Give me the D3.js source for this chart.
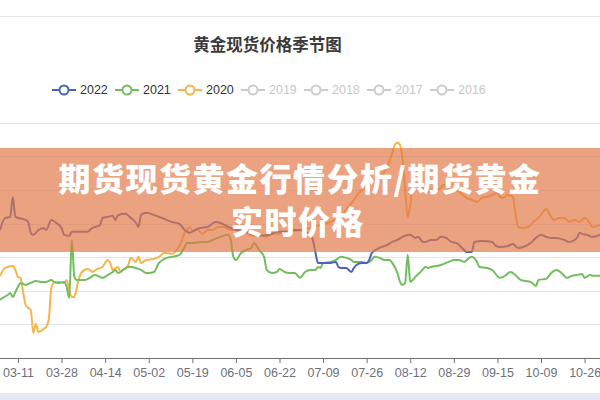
<!DOCTYPE html>
<html><head><meta charset="utf-8">
<script src="https://cdn.jsdelivr.net/npm/d3@7/dist/d3.min.js"></script>
<style>
html,body{margin:0;padding:0;background:#fff;}
svg{display:block;}
</style></head>
<body>
<svg id="chart" width="600" height="400"></svg>
<script>
// ---------- data ----------
const chartTitle = "黄金现货价格季节图";
const bannerLines = ["期货现货黄金行情分析/期货黄金", "实时价格"];
const legendNames = ["2022", "2021", "2020", "2019", "2018", "2017", "2016"];
const legendActive = [true, true, true, false, false, false, false];
const tickLabels = ["03-11","03-28","04-14","05-02","05-19","06-05","06-22","07-09","07-26","08-12","08-29","09-15","10-09","10-26"];
const tickDays = [7,24,41,58,75,92,109,126,143,160,177,194,211,228];
const yTicks = [320,340,360,380,400,420,440,460];

// [category index, price]
const s2022 = [[0,396.2],[2,403.4],[4,404.0],[5,415.9],[6,404.0],[10,402.2],[11,401.0],[12,394.5],[13,393.3],[15,396.2],[17,397.4],[18,396.2],[20,402.2],[22,400.4],[24,397.4],[25,393.3],[27,392.7],[28,395.1],[30,395.1],[34,395.1],[36,397.4],[39,399.2],[40,403.4],[42,404.0],[44,404.6],[45,402.2],[46,405.0],[49,405.8],[51,403.4],[52,402.2],[53,400.4],[54,398.0],[55,405.2],[57,406.4],[60,405.2],[62,404.0],[65,402.2],[67,401.0],[70,399.8],[72,396.2],[74,394.5],[76,396.2],[78,397.4],[81,398.0],[84,401.0],[86,400.4],[89,398.0],[91,396.8],[96,395.1],[101,392.7],[105,393.3],[108,395.1],[112,395.1],[114,396.2],[117,396.2],[120,394.5],[121,393.3],[122,390.3],[123,383.1],[124,376.6],[126,376.6],[129,376.6],[131,377.2],[132,374.2],[133,373.6],[135,373.6],[137,371.2],[138,373.6],[139,375.4],[141,376.6],[143,376.6],[144,378.4],[145,382.5],[148,385.5],[151,387.3],[153,389.1],[155,390.3],[157,392.1],[160,393.3],[162,391.5],[163,392.1],[165,389.1],[166,389.1],[168,390.3],[170,390.3],[172,392.1],[174,391.5],[176,389.1],[178,388.5],[181,384.3],[182,383.1],[184,383.1],[185,389.1],[188,389.7],[192,389.1],[193,387.3],[195,386.1],[198,386.7],[200,387.9],[202,385.5],[204,386.1],[207,388.5],[209,391.5],[211,393.3],[213,392.1],[215,391.5],[217,391.5],[220,390.3],[222,389.1],[225,391.5],[226,394.5],[227,393.9],[229,393.3],[231,392.1],[234,393.3]];
const s2021 = [[0,354.6],[1,355.7],[3,357.5],[4,358.7],[5,356.3],[6,359.3],[7,362.3],[8,364.7],[10,363.5],[12,364.7],[14,365.9],[16,365.3],[18,365.3],[20,366.5],[21,365.3],[23,364.7],[25,365.3],[26,362.3],[27,355.7],[28,390.3],[29,368.3],[30,366.5],[33,366.5],[35,367.7],[37,369.4],[39,368.3],[40,367.7],[42,369.4],[44,371.2],[45,372.4],[46,370.6],[48,372.4],[50,374.2],[51,374.2],[53,373.6],[55,372.4],[57,370.6],[58,370.6],[60,371.2],[62,376.6],[65,379.6],[67,380.2],[70,381.4],[72,386.1],[73,388.5],[75,388.5],[78,389.1],[81,389.1],[83,390.3],[86,392.1],[89,393.3],[90,390.3],[91,380.2],[92,378.4],[94,382.5],[96,384.3],[98,385.5],[99,388.5],[101,384.3],[103,380.2],[104,372.4],[106,370.6],[108,371.2],[109,373.0],[111,371.2],[113,370.6],[115,370.6],[117,367.7],[119,371.2],[121,372.4],[123,372.4],[124,374.2],[125,373.6],[126,376.6],[129,377.2],[131,378.4],[133,380.2],[135,379.6],[137,378.4],[138,377.2],[141,377.2],[143,376.6],[145,378.4],[146,380.2],[148,379.6],[150,378.4],[152,378.4],[153,376.6],[155,370.6],[156,365.3],[157,363.5],[158,364.7],[159,381.4],[160,365.3],[161,366.5],[162,368.3],[164,371.2],[166,374.2],[167,373.6],[168,374.2],[172,375.4],[174,376.6],[176,377.8],[177,378.4],[179,378.4],[181,377.2],[183,379.6],[184,380.2],[186,377.2],[187,374.2],[190,373.6],[192,372.4],[195,367.7],[197,368.9],[199,371.2],[201,369.4],[203,366.5],[207,365.3],[209,362.9],[210,366.5],[213,367.1],[215,370.6],[217,372.4],[219,370.6],[221,367.7],[223,368.9],[225,369.4],[227,370.0],[228,367.7],[230,369.4],[232,368.9],[234,368.9]];
const s2020 = [[0,368.8],[2,373.6],[5,374.8],[6,372.4],[7,368.3],[8,367.7],[9,359.3],[10,351.6],[11,349.8],[12,348.6],[13,334.9],[14,340.3],[15,335.5],[16,336.1],[17,337.3],[18,338.5],[19,342.6],[20,361.7],[21,364.7],[23,365.3],[25,364.7],[26,366.5],[27,360.5],[28,356.3],[29,356.3],[30,362.3],[31,368.3],[32,371.2],[34,373.0],[35,372.4],[36,371.2],[38,373.0],[40,374.2],[42,378.4],[43,376.6],[44,372.4],[46,374.2],[47,371.2],[48,372.4],[50,375.4],[51,379.6],[53,377.2],[54,380.2],[55,376.6],[57,378.4],[60,379.0],[62,380.2],[64,382.5],[65,382.5],[67,382.0],[69,384.3],[71,390.3],[72,394.5],[73,396.2],[74,398.0],[75,395.7],[77,396.2],[79,393.9],[81,396.2],[83,396.2],[85,398.0],[87,398.0],[90,396.2],[91,396.2],[94,396.2],[96,394.5],[99,392.7],[101,393.9],[104,392.1],[106,393.9],[109,393.9],[113,395.1],[117,396.2],[121,397.4],[125,399.2],[129,401.0],[132,403.4],[134,406.4],[138,414.1],[140,418.3],[143,421.9],[145,424.8],[148,427.8],[151,433.8],[153,442.1],[154,446.9],[155,448.1],[156,446.9],[157,438.0],[158,420.1],[159,404.0],[160,411.1],[161,422.5],[163,424.2],[164,421.9],[165,421.3],[166,418.9],[168,418.9],[169,421.3],[170,420.1],[172,421.3],[173,423.1],[174,421.9],[176,421.3],[179,418.9],[182,415.3],[184,414.1],[186,412.9],[188,415.3],[190,415.9],[192,417.1],[194,418.3],[195,415.9],[196,415.3],[198,417.1],[200,415.9],[201,406.4],[202,398.0],[204,397.4],[206,398.0],[208,401.0],[209,402.2],[211,405.2],[213,408.8],[214,406.4],[216,402.2],[218,403.4],[220,403.4],[222,401.0],[224,402.2],[226,401.0],[228,403.4],[230,400.4],[231,398.0],[234,399.2]];

const seriesList = [
  {name:"2020", data:s2020, color:"#f5b54c"},
  {name:"2021", data:s2021, color:"#72bd5e"},
  {name:"2022", data:s2022, color:"#4a63bd"}
];
const legendColors = ["#4a63bd","#72bd5e","#f5b54c","#cccccc","#cccccc","#cccccc","#cccccc"];

// ---------- drawing ----------
const svg = d3.select("#chart");
const W = 600, H = 400;
svg.append("rect").attr("width",W).attr("height",H).attr("fill","#fff");

// top border line
svg.append("line").attr("x1",0).attr("x2",W).attr("y1",16.5).attr("y2",16.5)
  .attr("stroke","#e6e8ec").attr("stroke-width",1);

// title
svg.append("text").attr("x",267.5).attr("y",50.5).attr("text-anchor","middle")
  .attr("font-family","'Noto Sans CJK SC','Noto Sans',sans-serif")
  .attr("font-weight","bold").attr("font-size",16.5).attr("fill","#3a3a3a")
  .text(chartTitle);

// legend
const legend = svg.append("g").attr("transform","translate(52,90)");
legendNames.forEach((n,i)=>{
  const g = legend.append("g").attr("transform",`translate(${i*63},0)`);
  const c = legendColors[i];
  g.append("line").attr("x1",0).attr("x2",24).attr("y1",0).attr("y2",0)
    .attr("stroke",c).attr("stroke-width",2);
  g.append("circle").attr("cx",12).attr("cy",0).attr("r",4.5)
    .attr("fill","#fff").attr("stroke",c).attr("stroke-width",2);
  g.append("text").attr("x",28).attr("y",4.3)
    .attr("font-family","'Liberation Sans',Arial,sans-serif").attr("font-size",12.5)
    .attr("fill", legendActive[i] ? "#333" : "#c8c8c8").text(n);
});

// scales
const x = d3.scaleLinear().domain([0,234]).range([0,600]);
const y = d3.scaleLinear().domain([320,460]).range([358,122.8]);

// grid
svg.append("g").selectAll("line").data(yTicks.slice(1)).join("line")
  .attr("x1",0).attr("x2",W)
  .attr("y1",d=>Math.round(y(d))+0.5).attr("y2",d=>Math.round(y(d))+0.5)
  .attr("stroke","#e0e6f1").attr("stroke-width",1);

// x axis
const xAxis = d3.axisBottom(x).tickValues(tickDays)
  .tickFormat((d,i)=>tickLabels[i]).tickSize(5).tickPadding(5);
const ax = svg.append("g").attr("transform","translate(0,358)").call(xAxis);
ax.select(".domain").attr("stroke","#6e7079").attr("d","M0,0.5H600");
ax.selectAll(".tick line").attr("stroke","#6e7079");
ax.selectAll(".tick text").attr("fill","#6e7079")
  .attr("font-family","'Liberation Sans',Arial,sans-serif").attr("font-size",12.5);

// lines
const line = d3.line().x(d=>x(d[0])).y(d=>y(d[1])).curve(d3.curveMonotoneX);
seriesList.forEach(s=>{
  svg.append("path").datum(s.data).attr("d",line)
    .attr("fill","none").attr("stroke",s.color).attr("stroke-width",2)
    .attr("stroke-linejoin","round");
});

// bottom slider strip
svg.append("rect").attr("x",0).attr("y",393).attr("width",W).attr("height",7)
  .attr("fill","#e2e8f4");

// banner overlay
svg.append("rect").attr("x",0).attr("y",148).attr("width",W).attr("height",104)
  .attr("fill","rgb(226,118,68)").attr("fill-opacity",0.68);
const bt = svg.append("g")
  .attr("font-family","'Noto Sans CJK SC','Noto Sans',sans-serif")
  .attr("font-weight","900").attr("font-size",32).attr("fill","#fff")
  .attr("text-anchor","middle").attr("letter-spacing",1.5);
bt.append("text").attr("x",300).attr("y",191).text(bannerLines[0]);
bt.append("text").attr("x",298).attr("y",234).text(bannerLines[1]);
</script>
</body></html>
